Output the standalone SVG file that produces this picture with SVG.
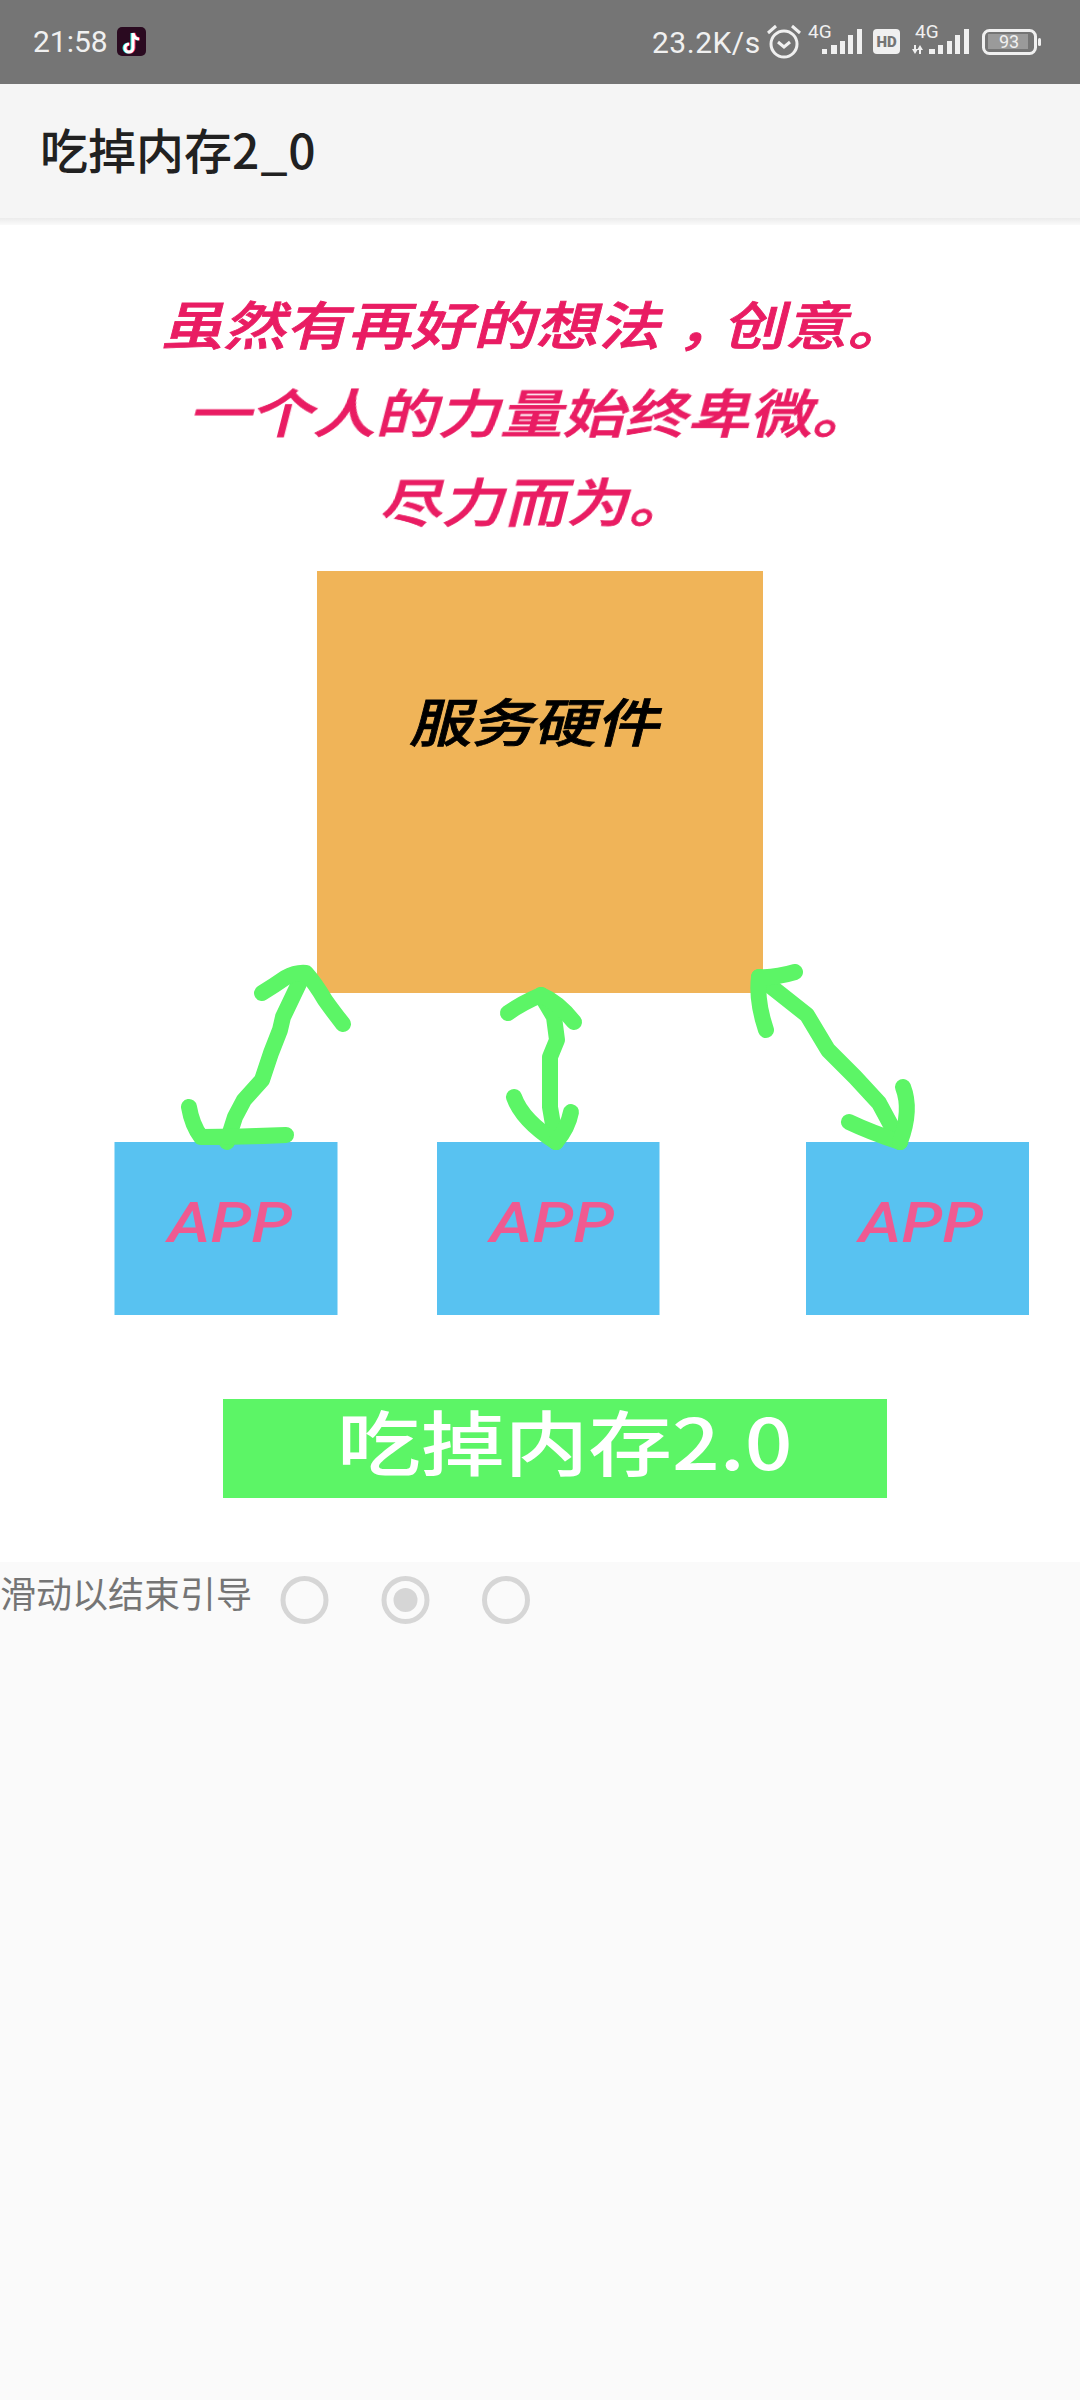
<svg xmlns="http://www.w3.org/2000/svg" width="1080" height="2400" viewBox="0 0 1080 2400">
<defs>
<linearGradient id="shadow" x1="0" y1="0" x2="0" y2="1"><stop offset="0" stop-color="#000" stop-opacity="0.06"/><stop offset="1" stop-color="#000" stop-opacity="0"/></linearGradient>
<filter id="soft" x="-5%" y="-5%" width="110%" height="110%"><feGaussianBlur stdDeviation="0.7"/></filter>
</defs>
<style>
.cjk{font-family:"Noto Sans CJK SC","Noto Sans",sans-serif}
.rb{font-family:Roboto,"Noto Sans",sans-serif}
.st{fill:#f0f0f0;font-size:30px}
.tiny{fill:#f0f0f0;font-size:19px}
.msg{fill:#e91e63;stroke:#e91e63;stroke-width:0.800;font-size:52px;font-weight:500}
.hw{fill:#000;stroke:#000;stroke-width:0.800;font-size:52px;font-weight:500}
.app{fill:#ef5a91;font-family:Roboto,"Liberation Sans",sans-serif;font-size:55px;font-style:italic;font-weight:500}
.box{fill:#58c2f1}
.arrow{fill:none;stroke:#5bf566;stroke-width:16;stroke-linecap:round;stroke-linejoin:round}
.bar{fill:#f0f0f0}
.dot{fill:none;stroke:#d6d6d6;stroke-width:5}
</style>
<rect width="1080" height="2400" fill="#fafafa"/>
<rect y="225" width="1080" height="1337" fill="#fff"/>
<g id="status-bar">
<rect width="1080" height="84" fill="#757575"/>
<text class="rb st" x="33" y="52">21:58</text>
<rect x="117" y="27" width="29" height="29" rx="5" fill="#2a0a20"/>
<path d="M133 33v15a4 4 0 1 1-4-4M133 33c1 4 3 6 6 6" fill="none" stroke="#25f4ee" stroke-width="3" transform="translate(-1 0)"/>
<path d="M133 33v15a4 4 0 1 1-4-4M133 33c1 4 3 6 6 6" fill="none" stroke="#fe2c55" stroke-width="3" transform="translate(1 0)"/>
<path d="M133 33v15a4 4 0 1 1-4-4M133 33c1 4 3 6 6 6" fill="none" stroke="#fff" stroke-width="3"/>
<text class="rb st" x="652" y="52.500" letter-spacing="0.500">23.2K/s</text>
<circle cx="784" cy="44" r="13" fill="none" stroke="#f0f0f0" stroke-width="3"/>
<path d="M778 42l6 5 6-5" fill="none" stroke="#f0f0f0" stroke-width="3"/>
<path d="M768 33l8-7M800 33l-8-7" fill="none" stroke="#f0f0f0" stroke-width="3"/>
<text class="rb tiny" x="808" y="38">4G</text>
<path class="bar" d="M822 49h5v5h-5zM831 45h6v9h-6zM840 41h5v13h-5zM848 35h5v19h-5zM857 29h5v25h-5z"/>
<rect x="873" y="29" width="27" height="25" rx="4" fill="#f0f0f0"/>
<text class="rb" x="886.500" y="47" font-size="15" font-weight="900" text-anchor="middle" fill="#757575">HD</text>
<text class="rb tiny" x="915" y="38">4G</text>
<path class="bar" d="M914 45h2v4h2l-3 5-3-5h2zM921 54h-2v-4h-2l3-5 3 5h-2z"/>
<path class="bar" d="M929 49h6v5h-6zM938 45h5v9h-5zM947 41h5v13h-5zM955 35h5v19h-5zM964 29h5v25h-5z"/>
<rect x="983.500" y="30.500" width="52" height="23" rx="6" fill="none" stroke="#f0f0f0" stroke-width="3"/>
<rect x="988" y="34" width="40" height="15" fill="#9a9a9a"/>
<text class="rb" x="1009" y="48" font-size="18" text-anchor="middle" fill="#f0f0f0">93</text>
<rect x="1038" y="38" width="3" height="8" rx="1.500" fill="#f0f0f0"/>
</g>
<g id="app-bar">
<rect y="84" width="1080" height="134" fill="#f5f5f5"/>
<rect y="218" width="1080" height="7" fill="url(#shadow)"/>
<text class="cjk" x="40" y="169" font-size="48" font-weight="500" fill="#212121">吃掉内存2<tspan dx="1">_</tspan><tspan dx="1">0</tspan></text>
</g>
<g filter="url(#soft)">
<g id="message">
<text class="cjk msg" transform="translate(161 345) scale(1.2 1) skewX(-12)">虽然有再好的想法<tspan dx="14">，</tspan><tspan dx="-14">创意。</tspan></text>
<text class="cjk msg" transform="translate(188 433) scale(1.2 1) skewX(-12)">一个人的力量始终卑微。</text>
<text class="cjk msg" transform="translate(379 522) scale(1.2 1) skewX(-12)">尽力而为。</text>
</g>
<g id="server">
<rect x="317" y="571" width="446" height="422" fill="#f0b459"/>
<text class="cjk hw" transform="translate(409 742) scale(1.2 1) skewX(-12)">服务硬件</text>
</g>
<g id="app1"><rect class="box" x="114.500" y="1142" width="223" height="173"/><text class="app" transform="translate(168 1242) scale(1.2 1)">APP</text></g>
<g id="app2"><rect class="box" x="437" y="1142" width="222.500" height="173"/><text class="app" transform="translate(490 1242) scale(1.2 1)">APP</text></g>
<g id="app3"><rect class="box" x="806" y="1142" width="223" height="173"/><text class="app" transform="translate(859 1242) scale(1.2 1)">APP</text></g>
<g id="connectors">
<path class="arrow" d="M227 1142L235 1117L244 1100L262 1080L271 1053L280 1030L283 1017L304 973"/>
<path class="arrow" d="M262 993Q275 985 285 978Q296 972 306 973Q315 983 325 1000Q332 1010 343 1024"/>
<path class="arrow" d="M189 1107Q192 1125 201 1137Q240 1137 286 1135"/>
<path class="arrow" d="M556 1142L550 1107L550 1057L557 1040L554 1017L541 995"/>
<path class="arrow" d="M508 1013Q522 1003 541 995Q558 1002 574 1022"/>
<path class="arrow" d="M514 1097Q522 1120 556 1142" stroke-width="20"/>
<path class="arrow" d="M556 1142Q568 1128 571 1112"/>
<path class="arrow" d="M759 977L807 1015L828 1050L855 1077L879 1103L900 1142"/>
<path class="arrow" d="M795 972Q775 978 759 977Q756 1000 766 1030" stroke-width="18"/>
<path class="arrow" d="M849 1122Q870 1132 900 1142" stroke-width="20"/>
<path class="arrow" d="M900 1142Q912 1110 903 1087"/>
</g>
<g id="banner">
<rect x="223" y="1399" width="664" height="99" fill="#5bf566"/>
<text class="cjk" transform="translate(337 1470) scale(1.18 1)" font-size="71" font-weight="500" fill="#fff">吃掉内存2.0</text>
</g>
</g>
<g id="pager">
<text class="cjk" x="0" y="1608" font-size="36" fill="#757575">滑动以结束引导</text>
<circle class="dot" cx="304.500" cy="1600" r="21.500"/>
<circle class="dot" cx="405.500" cy="1600" r="21.500"/>
<circle cx="405.500" cy="1600" r="12" fill="#d6d6d6"/>
<circle class="dot" cx="506" cy="1600" r="21.500"/>
</g>
</svg>
